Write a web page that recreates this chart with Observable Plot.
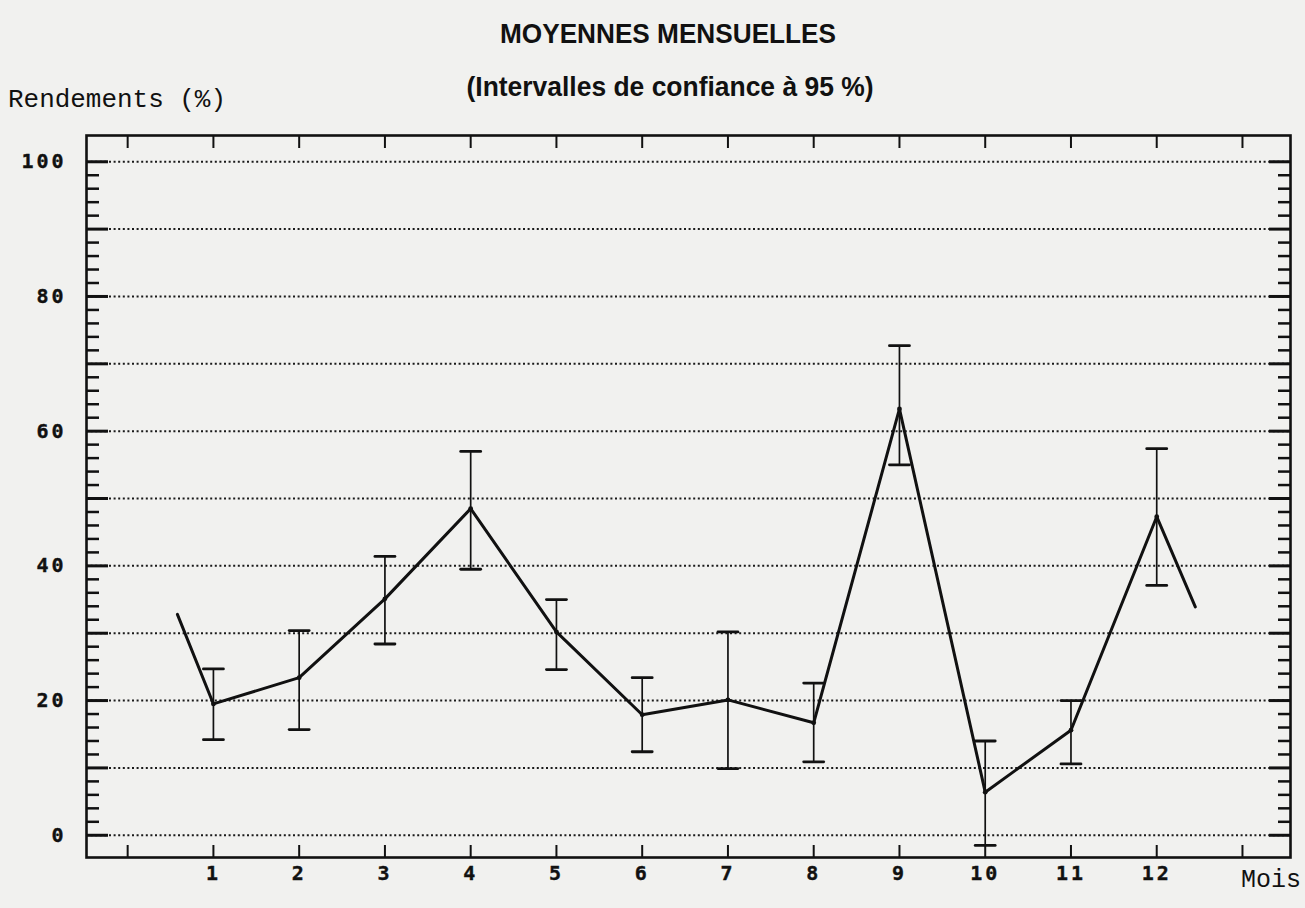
<!DOCTYPE html>
<html>
<head>
<meta charset="utf-8">
<script src="https://cdn.jsdelivr.net/npm/d3@7"></script>
<script src="https://cdn.jsdelivr.net/npm/@observablehq/plot@0.6"></script>
<style>
  html, body { margin: 0; padding: 0; background: #f1f1ef; }
  #chart { width: 1305px; height: 908px; }
</style>
</head>
<body>
<div id="chart"></div>
<script>
// ---- data ----
const months = [1, 2, 3, 4, 5, 6, 7, 8, 9, 10, 11, 12];
const means  = [19.5, 23.4, 35.1, 48.5, 30.2, 17.9, 20.1, 16.7, 63.3, 6.4, 15.6, 47.3];
const lower  = [14.2, 15.7, 28.4, 39.5, 24.6, 12.4, 9.9, 10.9, 55.0, -1.5, 10.6, 37.1];
const upper  = [24.7, 30.4, 41.4, 57.0, 35.0, 23.4, 30.2, 22.6, 72.7, 14.0, 20.0, 57.4];
// line segments drawn beyond the first and last months (half a month out)
const leadIn  = { x: 0.58, y: 32.8 };
const leadOut = { x: 12.45, y: 33.9 };

const xTicks = [0, 1, 2, 3, 4, 5, 6, 7, 8, 9, 10, 11, 12, 13];
const xLabels = months;
const yMajor = [0, 10, 20, 30, 40, 50, 60, 70, 80, 90, 100];
const yLabels = [0, 20, 40, 60, 80, 100];
const yMinor = d3.range(2, 100, 2).filter(v => v % 10 !== 0);

const titleText = "MOYENNES MENSUELLES";
const subtitleText = "(Intervalles de confiance à 95 %)";
const yLabelText = "Rendements (%)";
const xLabelText = "Mois";

// ---- build ----
const table = months.map((m, i) => ({ month: m, mean: means[i], lo: lower[i], hi: upper[i] }));
const lineData = [leadIn, ...table.map(d => ({ x: d.month, y: d.mean })), leadOut];
const caps = table.flatMap(d => [{ month: d.month, v: d.lo }, { month: d.month, v: d.hi }]);

const capShape = { draw(ctx, l) { ctx.moveTo(0, 0); ctx.lineTo(0, -l); } };
const tickFont = "'DejaVu Sans Mono', monospace";

const plot = Plot.plot({
  width: 1305,
  height: 908,
  marginLeft: 86,
  marginRight: 15,
  marginTop: 135,
  marginBottom: 51,
  style: { background: "transparent", color: "#111", overflow: "visible" },
  x: { domain: [-0.48, 13.56], axis: null },
  y: { domain: [-3.3, 103.9], axis: null },
  marks: [
    // dotted grid
    Plot.ruleY(yMajor, { stroke: "#1a1a1a", strokeWidth: 2, strokeDasharray: "2,2.6" }),
    // left ticks (inside the frame)
    Plot.axisY(yMajor, { anchor: "left", tickSize: 22, dx: 22, strokeWidth: 3, tickFormat: () => "", label: null }),
    Plot.axisY(yMinor, { anchor: "left", tickSize: 13, dx: 13, strokeWidth: 2.5, tickFormat: () => "", label: null }),
    // right ticks (inside the frame)
    Plot.axisY(yMajor, { anchor: "right", tickSize: 22, dx: -22, strokeWidth: 3, tickFormat: () => "", label: null }),
    Plot.axisY(yMinor, { anchor: "right", tickSize: 13, dx: -13, strokeWidth: 2.5, tickFormat: () => "", label: null }),
    // y labels
    Plot.axisY(yLabels, { anchor: "left", tickSize: 0, tickPadding: 20, fontSize: 20, fontWeight: "bold",
      fontFamily: tickFont, tickFormat: d => String(d), label: null }),
    // top and bottom ticks (inside)
    Plot.axisX(xTicks, { anchor: "top", tickSize: 12, dy: 12, strokeWidth: 2, tickFormat: () => "", label: null }),
    Plot.axisX(xTicks, { anchor: "bottom", tickSize: 12, dy: -12, strokeWidth: 2, tickFormat: () => "", label: null }),
    // x labels
    Plot.axisX(xLabels, { anchor: "bottom", tickSize: 0, tickPadding: 8, fontSize: 20, fontWeight: "bold",
      fontFamily: tickFont, tickFormat: d => String(d), label: null }),
    // error bars
    Plot.ruleX(table, { x: "month", y1: "lo", y2: "hi", stroke: "#111", strokeWidth: 1.7 }),
    Plot.vector(caps, { x: "month", y: "v", length: 20, rotate: 90, anchor: "middle", shape: capShape,
      stroke: "#111", strokeWidth: 2.8 }),
    // mean line
    Plot.line(lineData, { x: "x", y: "y", stroke: "#111", strokeWidth: 3, strokeLinejoin: "round" }),
    Plot.dot(table, { x: "month", y: "mean", r: 2.4, fill: "#111" }),
    // frame
    Plot.frame({ stroke: "#111", strokeWidth: 2.6 })
  ]
});

const svg = d3.select(plot);
// widen the numeric tick labels a little (dot-matrix look of the original)
svg.selectAll("text")
  .filter(function () { return /^\d+$/.test(this.textContent.trim()); })
  .attr("letter-spacing", "3px")
  .attr("stroke", "#111").attr("stroke-width", 0.4);

const narrow = "'Liberation Sans Narrow', 'Arial Narrow', 'Liberation Sans', Arial, sans-serif";
const mono = "'Liberation Mono', 'Courier New', monospace";

svg.append("text")
  .attr("x", 668).attr("y", 43)
  .attr("text-anchor", "middle")
  .attr("font-family", narrow)
  .attr("font-weight", "bold").attr("font-size", 27)
  .attr("textLength", 336).attr("lengthAdjust", "spacingAndGlyphs")
  .attr("fill", "#111")
  .text(titleText);

svg.append("text")
  .attr("x", 670).attr("y", 96)
  .attr("text-anchor", "middle")
  .attr("font-family", narrow)
  .attr("font-weight", "bold").attr("font-size", 27)
  .attr("textLength", 407).attr("lengthAdjust", "spacingAndGlyphs")
  .attr("fill", "#111")
  .text(subtitleText);

svg.append("text")
  .attr("x", 8).attr("y", 107)
  .attr("text-anchor", "start")
  .attr("font-family", mono)
  .attr("font-size", 25)
  .attr("textLength", 218).attr("lengthAdjust", "spacingAndGlyphs")
  .attr("fill", "#111")
  .text(yLabelText);

svg.append("text")
  .attr("x", 1241).attr("y", 887)
  .attr("text-anchor", "start")
  .attr("font-family", mono)
  .attr("font-size", 25)
  .attr("textLength", 60).attr("lengthAdjust", "spacingAndGlyphs")
  .attr("fill", "#111")
  .text(xLabelText);

document.getElementById("chart").appendChild(plot);
</script>
</body>
</html>
